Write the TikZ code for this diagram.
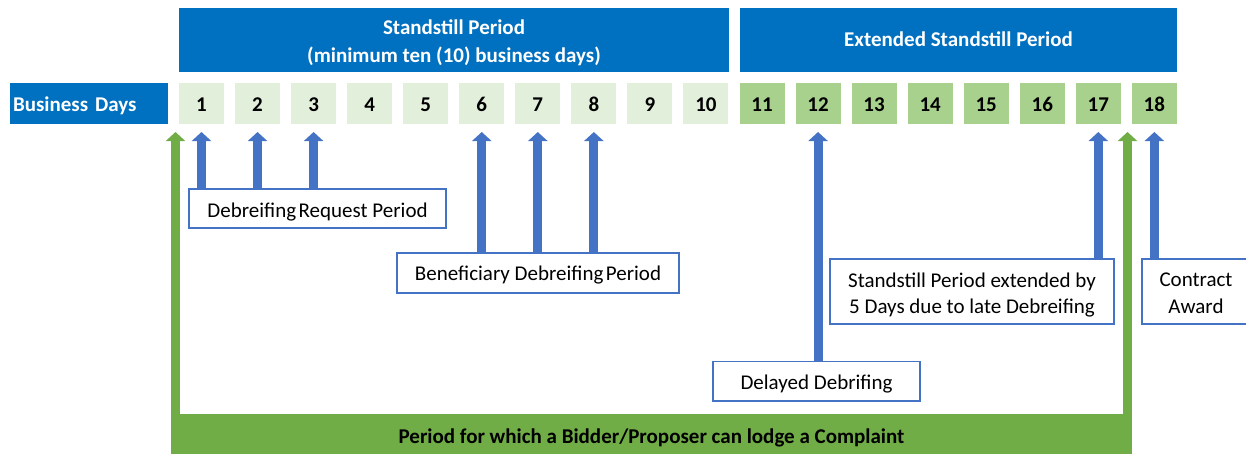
\documentclass[tikz,border=0pt]{standalone}
\usepackage{fontspec}
\setmainfont{Carlito}
\usetikzlibrary{arrows.meta}
\definecolor{hdrblue}{HTML}{0070C0}
\definecolor{arrblue}{HTML}{4472C4}
\definecolor{dayA}{HTML}{E2EFDA}
\definecolor{dayB}{HTML}{A9D18E}
\definecolor{cgreen}{HTML}{70AD47}
\begin{document}
\begin{tikzpicture}[x=1pt,y=-1pt,
  % text height/depth place the baseline inside the single-line boxes
  hdr/.style={fill=hdrblue, text=white, font=\fontsize{21}{28.3}\selectfont\bfseries,
    align=center, inner sep=0pt, outer sep=0pt, anchor=north west},
  daybox/.style={minimum width=45pt, minimum height=41pt, inner sep=0pt, outer sep=0pt,
    anchor=north west, font=\fontsize{21}{24}\selectfont\bfseries,
    text height=15pt, text depth=0pt},
  note/.style={draw=arrblue, line width=1.5pt, fill=white, align=center, inner sep=0pt,
    outer sep=0pt, anchor=north west, font=\fontsize{21}{26.6}\selectfont},
  uparrow/.style={draw=arrblue, line width=9pt, -{Triangle[width=19pt,length=9pt]}},
  greenarm/.style={draw=cgreen, line width=9pt, -{Triangle[width=19pt,length=9pt]}},
]
\useasboundingbox (0,0) rectangle (1246,453);

% period headers
\node[hdr, minimum width=550pt, minimum height=64pt] (ss) at (179,8)
  {\rule{0pt}{20pt}Standstill Period\\(minimum ten (10) business days)};
\node[hdr, minimum width=437pt, minimum height=64pt, text height=15.3pt,
  text depth=2.5pt] (ext) at (740,8) {Extended Standstill Period};
\node[hdr, minimum width=158pt, minimum height=41pt, text width=152pt, align=left,
  inner xsep=3pt, text height=19.4pt, text depth=4.4pt] (bd) at (10,83) {Business Days};

% business day cells
\foreach \i in {1,...,18}{
  \pgfmathsetmacro\xx{179+(\i-1)*56.05}
  \ifnum\i>10 \def\dc{dayB}\else\def\dc{dayA}\fi
  \node[daybox, fill=\dc] (d\i) at (\xx,83) {\i};
}
\coordinate (tipy) at ([yshift=-8pt]d1.south);

% annotation boxes
\node[note, minimum width=257pt, minimum height=39pt, text height=22pt,
  text depth=4.4pt] (req) at (189,189)
  {Debreifing\hspace{0.12em}Request Period};
\node[note, minimum width=282pt, minimum height=40pt, text height=19.8pt,
  text depth=4.4pt] (ben) at (397,253)
  {Beneficiary Debreifing\hspace{0.12em}Period};
\node[note, minimum width=284pt, minimum height=65pt] (extn) at (830,259)
  {\rule{0pt}{21.4pt}Standstill Period extended by\\5 Days due to late Debreifing};
\node[note, minimum width=108pt, minimum height=65pt] (award) at (1142,259)
  {\rule{0pt}{17pt}Contract\\Award};
\node[note, minimum width=207pt, minimum height=39.5pt, text height=20.6pt,
  text depth=4.4pt] (delay) at (713,361.5)
  {Delayed Debrifing};

% pointers to days
\foreach \d in {1,2,3}{\draw[uparrow] (req.north -| d\d.south) -- (tipy -| d\d.south);}
\foreach \d in {6,7,8}{\draw[uparrow] (ben.north -| d\d.south) -- (tipy -| d\d.south);}
\draw[uparrow] (delay.north -| d12.south) -- (tipy -| d12.south);
\draw[uparrow] (extn.north -| d17.south) -- (tipy -| d17.south);
\draw[uparrow] (award.north -| d18.south) -- (tipy -| d18.south);

% complaint period bracket
\node[fill=cgreen, anchor=north west, minimum width=961pt, minimum height=45pt,
  inner sep=0pt, outer sep=0pt, font=\fontsize{21}{24}\selectfont\bfseries,
  text height=18pt, text depth=4.4pt] (cmp) at (171,414)
  {Period for which a Bidder/Proposer can lodge a Complaint};
\coordinate (gl0) at ([xshift=4.5pt]cmp.north west);
\coordinate (gr0) at ([xshift=-4.5pt]cmp.north east);
\draw[greenarm] (gl0) -- (gl0 |- tipy);
\draw[greenarm] (gr0) -- (gr0 |- tipy);
\end{tikzpicture}
\end{document}
